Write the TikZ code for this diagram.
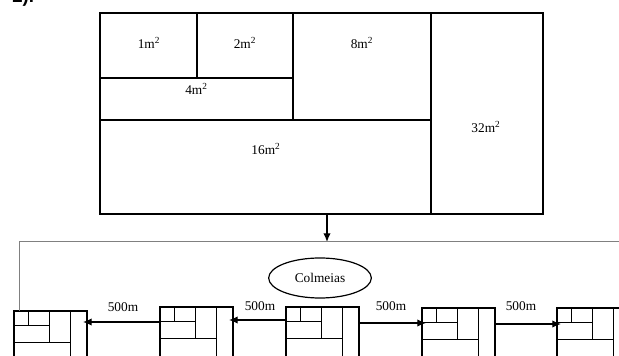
\documentclass[tikz,border=0pt]{standalone}
\usepackage{fontspec}
\setmainfont{Liberation Serif}
\newfontfamily\labelsans{Liberation Sans}
\usetikzlibrary{calc,arrows.meta,shapes.geometric}
\newcommand\hiveparts[1]{%
  \draw[innerline] ($(#1.north west)+(14,0)$) -- ++(0,15);
  \draw[innerline] ($(#1.north west)+(35,0)$) -- ++(0,32);
  \draw[innerline] ($(#1.north west)+(56,0)$) -- ++(0,60);
  \draw[innerline] ($(#1.north west)+(0,15)$) -- ++(35,0);
  \draw[innerline] ($(#1.north west)+(0,32)$) -- ++(56,0);
}
\begin{document}
\begin{tikzpicture}[x=0.75pt,y=-0.75pt,
  lbl/.style={font=\fontsize{10}{12}\selectfont, inner sep=0pt},
  fieldbox/.style={draw, line width=1.8pt, minimum width=332.25pt, minimum height=150.75pt, anchor=north west, inner sep=0pt, outer sep=0pt},
  bigline/.style={line width=1pt},
  hive/.style={draw, line width=1.6pt, minimum width=54.75pt, minimum height=45pt, anchor=north west, inner sep=0pt, outer sep=0pt},
  innerline/.style={line width=0.75pt},
  link/.style={line width=0.9pt, -{Latex[length=6.5pt,width=5.5pt]}},
  feed/.style={draw=gray, line width=0.75pt}
]
\clip (0,0) rectangle (619,356);
\useasboundingbox (0,0) rectangle (619,356);

% partially visible heading (cut by the top edge, as in the reference)
\node[anchor=base west, inner sep=0pt, font=\labelsans\bfseries\fontsize{14}{16}\selectfont] (num) at (12,2.5) {2).};

% big field
\node[fieldbox] (field) at (100,13) {};
\draw[bigline] (197,13) -- (197,78);
\draw[bigline] (293,13) -- (293,120);
\draw[bigline] (431,13) -- (431,214);
\draw[bigline] (100,78) -- (293,78);
\draw[bigline] (100,120) -- (431,120);

\node[lbl] (a1) at (149,43) {1m\textsuperscript{2}};
\node[lbl] (a2) at (245,43) {2m\textsuperscript{2}};
\node[lbl] (a8) at (362,43) {8m\textsuperscript{2}};
\node[lbl] (a4) at (196.5,89) {4m\textsuperscript{2}};
\node[lbl] (a16) at (266,149) {16m\textsuperscript{2}};
\node[lbl] (a32) at (486,127) {32m\textsuperscript{2}};

% feed lines
\coordinate (drop) at (327,242);
\coordinate (feedL) at (19,242);
\coordinate (feedR) at (625,242);
\draw[link] (field.south -| drop) -- (drop);

% ellipse
\node[draw, ellipse, line width=0.9pt, minimum width=77pt, minimum height=30pt, inner sep=0pt, font=\fontsize{10}{12}\selectfont] (colm) at (320,278) {Colmeias};

% hives
\node[hive] (h1) at (14,311) {};
\node[hive] (h2) at (160,307) {};
\node[hive] (h3) at (286,307) {};
\node[hive] (h4) at (422,308) {};
\node[hive] (h5) at (557,308) {};
\hiveparts{h1}
\hiveparts{h2}
\hiveparts{h3}
\hiveparts{h4}
\hiveparts{h5}

\draw[feed] (feedR) -- (feedL) -- (feedL |- h1.north);

\coordinate (r1) at (0,322);
\coordinate (r2) at (0,320);
\coordinate (r3) at (0,323);
\coordinate (r4) at (0,324);
\draw[link, shorten >=-3pt] (h2.west |- r1) -- (h1.east |- r1);
\draw[link, shorten >=-3pt] (h3.west |- r2) -- (h2.east |- r2);
\draw[link, shorten >=-3pt] (h3.east |- r3) -- (h4.west |- r3);
\draw[link, shorten >=-3pt] (h4.east |- r4) -- (h5.west |- r4);

\node[lbl] (d1) at (123,307) {500m};
\node[lbl] (d2) at (260,306) {500m};
\node[lbl] (d3) at (391,306) {500m};
\node[lbl] (d4) at (521,306) {500m};
\end{tikzpicture}
\end{document}
